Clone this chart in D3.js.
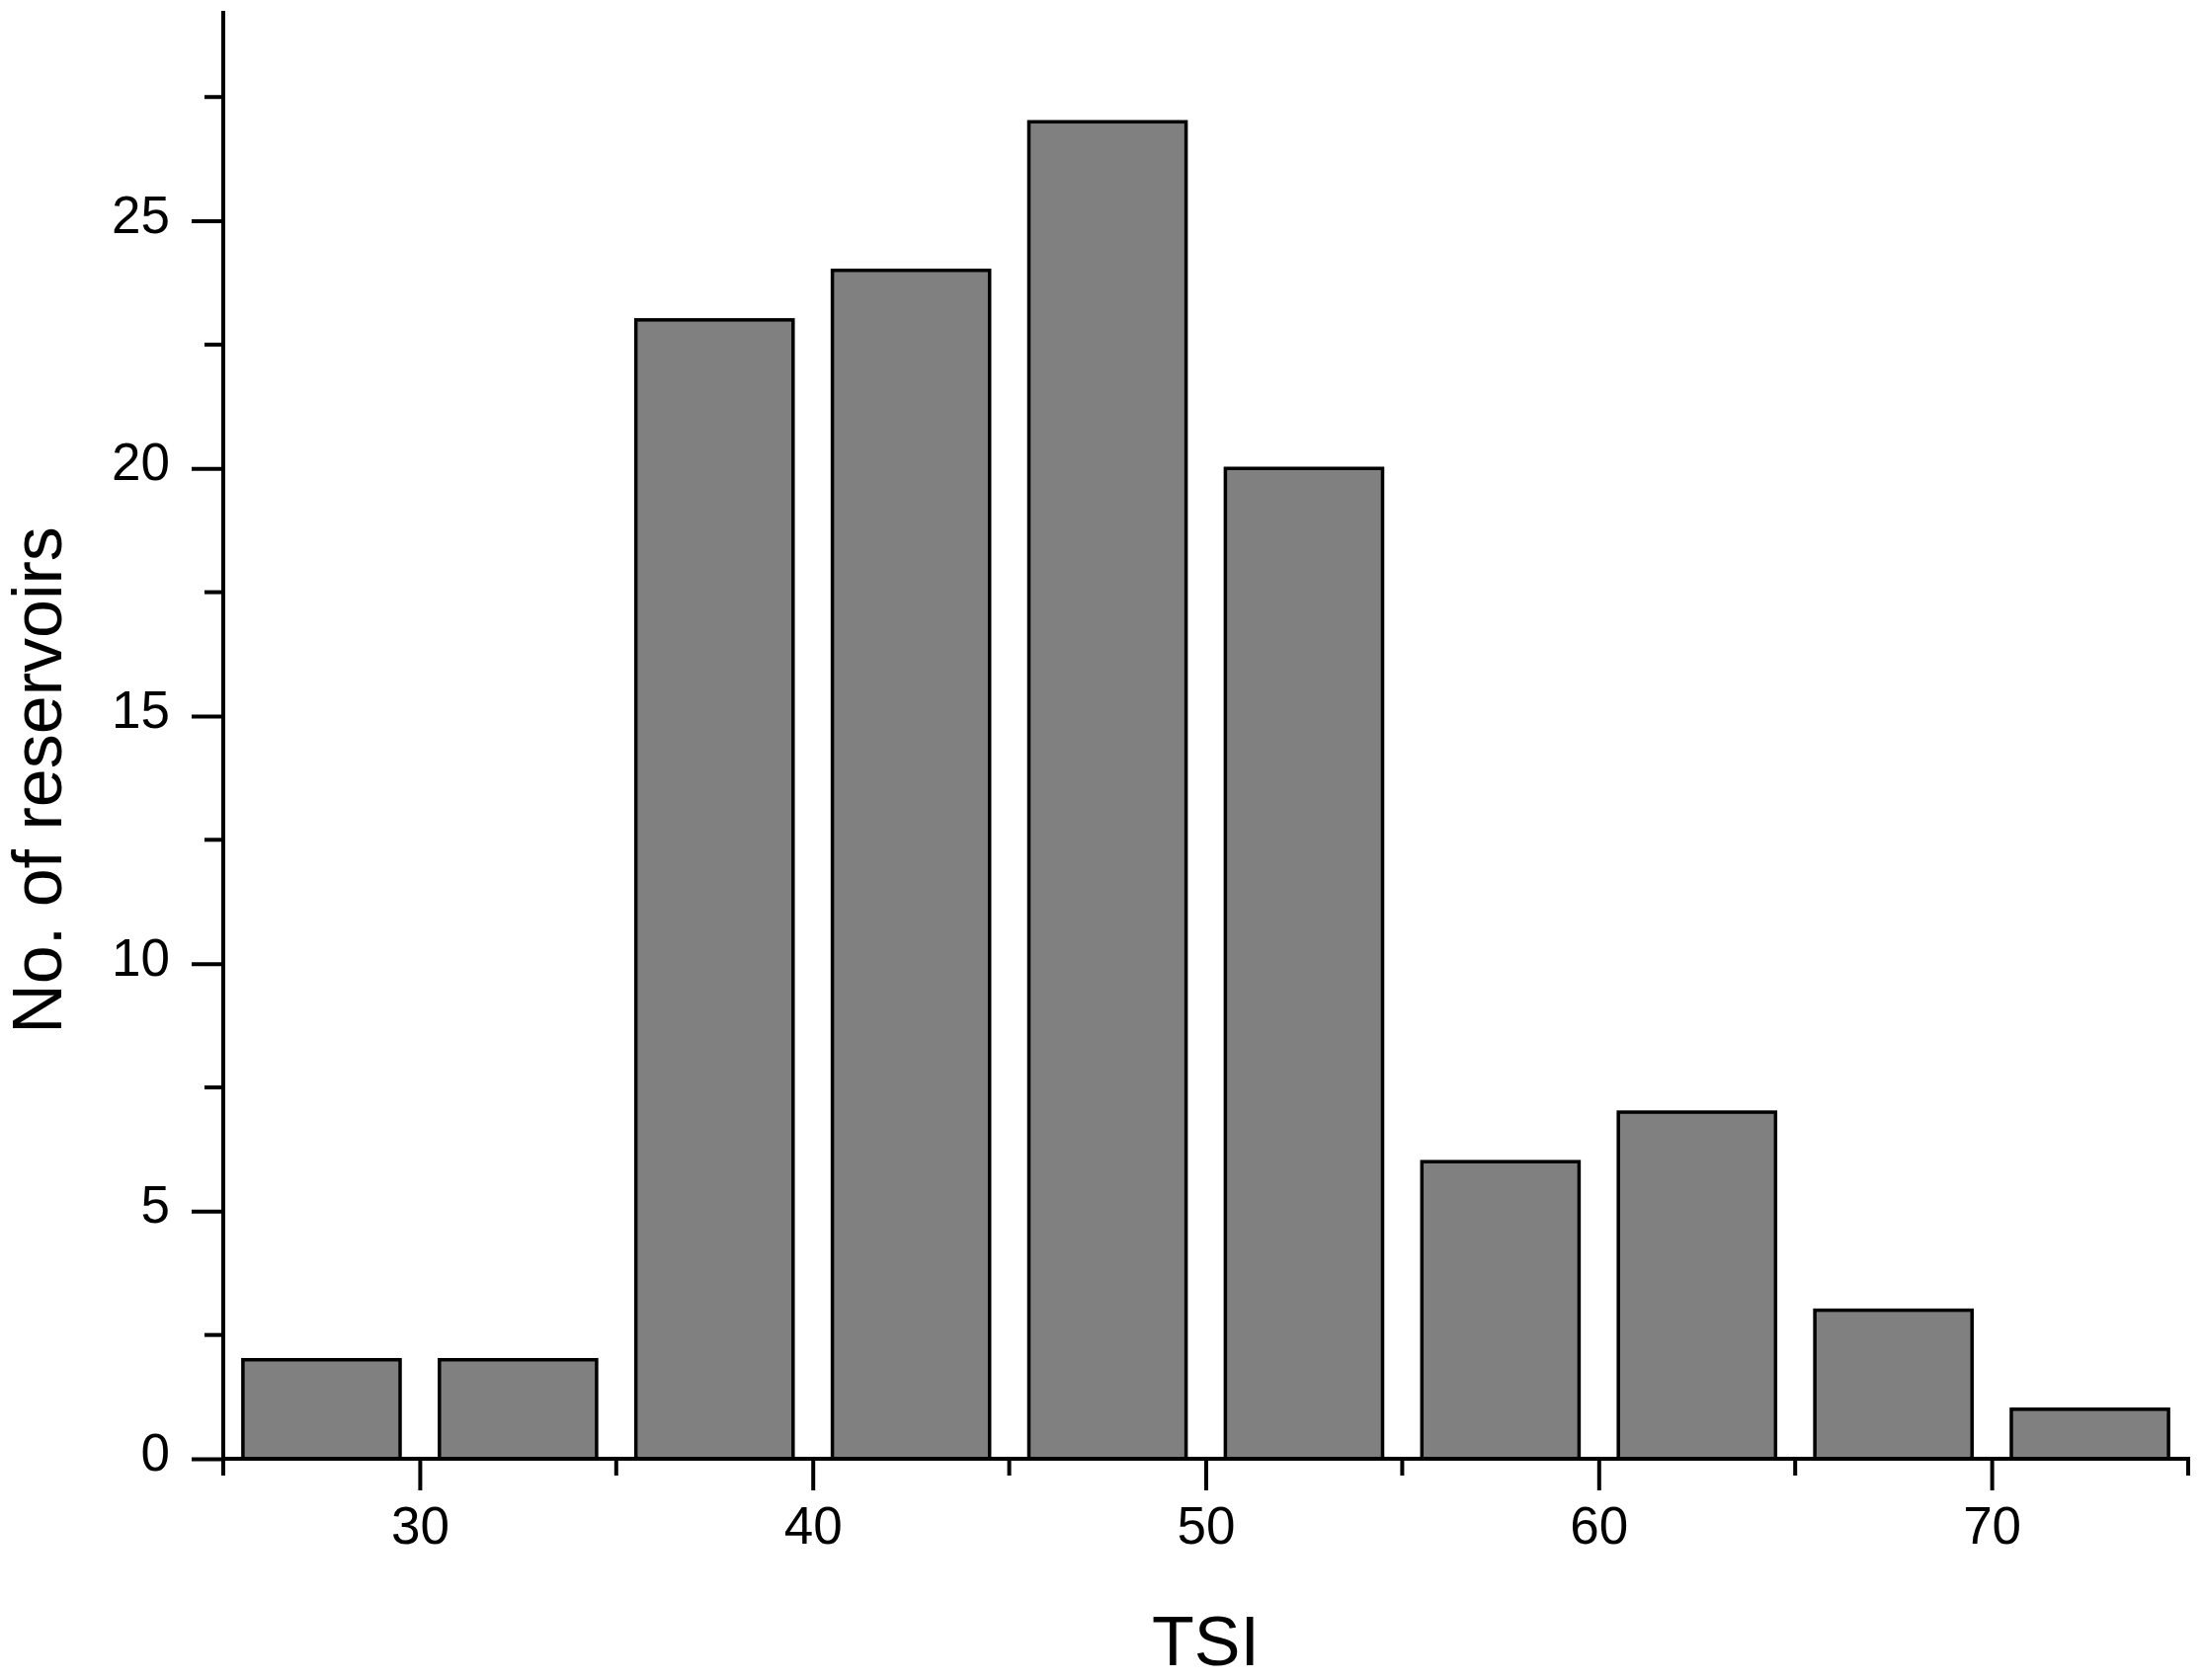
<!DOCTYPE html>
<html>
<head>
<meta charset="utf-8">
<script src="https://cdn.jsdelivr.net/npm/d3@7"></script>
<style>
  body { margin: 0; background: #fff; }
  text { font-family: "Liberation Sans", Arial, sans-serif; fill: #000; }
</style>
</head>
<body>
<div id="chart"></div>
<script>
// histogram bins (TSI) and counts
const binStarts = [25, 30, 35, 40, 45, 50, 55, 60, 65, 70];
const counts = [2, 2, 23, 24, 27, 20, 6, 7, 3, 1];
const xMajorTicks = [30, 40, 50, 60, 70];
const xMinorTicks = [25, 35, 45, 55, 65, 75];
const yMajorTicks = [0, 5, 10, 15, 20, 25];
const yMinorTicks = [2.5, 7.5, 12.5, 17.5, 22.5, 27.5];
const binWidth = 5;

const width = 2230, height = 1701;

const x = d3.scaleLinear().domain([25, 75]).range([226, 2215]);
const y = d3.scaleLinear().domain([0, 29.2]).range([1477, 13]);

const svg = d3.select("#chart").append("svg")
    .attr("width", width)
    .attr("height", height);

// bars
svg.append("g").selectAll("rect")
    .data(binStarts.map((b, i) => ({start: b, value: counts[i]})))
    .enter().append("rect")
    .attr("x", d => x(d.start + 0.5))
    .attr("width", d => x(d.start + binWidth - 0.5) - x(d.start + 0.5))
    .attr("y", d => y(d.value))
    .attr("height", d => y(0) - y(d.value))
    .attr("fill", "#808080")
    .attr("stroke", "#000")
    .attr("stroke-width", 3.5);

// x axis
const xAxisMajor = d3.axisBottom(x).tickValues(xMajorTicks).tickSize(30).tickPadding(18).tickSizeOuter(0);
const gx = svg.append("g")
    .attr("transform", "translate(0," + y(0) + ")")
    .call(xAxisMajor);
gx.select(".domain").remove();
gx.selectAll("text").attr("font-size", 53).attr("font-family", null);

svg.append("g")
    .attr("transform", "translate(0," + y(0) + ")")
    .selectAll("line").data(xMinorTicks).enter().append("line")
    .attr("x1", d => x(d)).attr("x2", d => x(d))
    .attr("y1", 0).attr("y2", 15);

// y axis
const yAxisMajor = d3.axisLeft(y).tickValues(yMajorTicks).tickSize(30).tickPadding(24).tickSizeOuter(0);
const gy = svg.append("g")
    .attr("transform", "translate(" + x(25) + ",0)")
    .call(yAxisMajor);
gy.select(".domain").remove();
gy.selectAll("text").attr("font-size", 53).attr("font-family", null).attr("dy", "0.22em");

svg.append("g")
    .attr("transform", "translate(" + x(25) + ",0)")
    .selectAll("line").data(yMinorTicks).enter().append("line")
    .attr("x1", 0).attr("x2", -17)
    .attr("y1", d => y(d)).attr("y2", d => y(d));

// axis lines
svg.append("line")
    .attr("x1", x(25)).attr("x2", x(75))
    .attr("y1", y(0)).attr("y2", y(0));
svg.append("line")
    .attr("x1", x(25)).attr("x2", x(25))
    .attr("y1", y(29.2)).attr("y2", y(0));

svg.selectAll("line")
    .attr("stroke", "#000")
    .attr("stroke-width", 4)
    .attr("stroke-linecap", "square");
svg.selectAll(".tick line").attr("stroke", "#000").attr("stroke-width", 4);

// titles
svg.append("text")
    .attr("x", (x(25) + x(75)) / 2)
    .attr("y", 1686)
    .attr("text-anchor", "middle")
    .attr("font-size", 70)
    .text("TSI");

svg.append("text")
    .attr("transform", "translate(62,790) rotate(-90)")
    .attr("text-anchor", "middle")
    .attr("font-size", 70)
    .text("No. of reservoirs");
</script>
</body>
</html>
